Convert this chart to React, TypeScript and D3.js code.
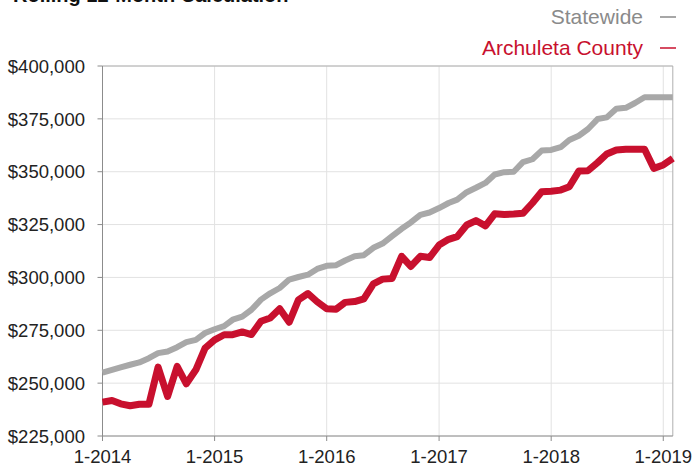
import React from "react";
import * as d3 from "d3";

const startYear = 2014;
const startMonth = 0; // January
const statewide = [
  255, 256.3, 257.5, 258.7, 259.8, 261.8, 264.2, 265, 267, 269.4, 270.5, 273.7,
  275.5, 277, 280, 281.5, 284.7, 289.5, 292.5, 295, 299, 300.2, 301.3, 304,
  305.5, 305.8, 308, 310, 310.5, 314, 316, 319.5, 323, 326, 329.6, 330.7,
  332.8, 335.2, 336.8, 340.3, 342.4, 344.7, 348.7, 349.8, 350, 354.5, 355.9, 360,
  360.3, 361.6, 365, 367, 370.2, 374.9, 375.7, 379.8, 380.2, 382.5, 385.2, 385.2,
  385.2, 385.2,
].map((v) => v * 1000);
const archuleta = [
  241, 241.8, 240.2, 239.3, 240, 240, 257.6, 243.7, 257.9, 249.7, 256.3, 266.6,
  270.5, 272.9, 272.9, 274.2, 273, 279.3, 280.8, 285.2, 278.8, 289.4, 292.4, 288.5,
  285.2, 285, 288.2, 288.6, 289.9, 297, 299.2, 299.5, 310, 305.2, 310, 309.4,
  315.3, 318, 319.3, 324.8, 326.9, 324.4, 330.1, 329.8, 330, 330.3, 335.2, 340.5,
  340.8, 341.3, 342.9, 350.3, 350.5, 354.3, 358.4, 360.3, 360.6, 360.6, 360.6, 351.6,
  353.2, 356.3,
].map((v) => v * 1000);
const yTicks = [225000, 250000, 275000, 300000, 325000, 350000, 375000, 400000];
const xTickYears = [2014, 2015, 2016, 2017, 2018, 2019];
const seriesNames = ["Statewide", "Archuleta County"];
const titleText = "Rolling 12-Month Calculation";

const W = 694;
const H = 468;
const M = { left: 102.5, right: 694 - 672.8, top: 66, bottom: 468 - 436 };
const GRAY = "#a8a8a8";
const RED = "#c8102e";
const FONT = "'Liberation Sans', Arial, Helvetica, sans-serif";

export default function App() {
  const dateAt = (i: number) => new Date(startYear, startMonth + i, 1);
  const x = d3
    .scaleTime()
    .domain([dateAt(0), dateAt(statewide.length - 1)])
    .range([M.left, W - M.right]);
  const y = d3
    .scaleLinear()
    .domain([225000, 400000])
    .range([H - M.bottom, M.top]);
  const line = d3
    .line<number>()
    .x((_, i) => x(dateAt(i)))
    .y((d) => y(d))
    .curve(d3.curveLinear);
  const fmt = d3.format("$,.0f");
  const x0 = M.left;
  const x1 = W - M.right;
  const y0 = H - M.bottom;
  const y1 = M.top;

  return (
    <svg
      width={W}
      height={H}
      style={{ position: "absolute", left: 0, top: 0, background: "#fff" }}
      fontFamily={FONT}
    >
      <text x={13} y={2} fontSize={20} fontWeight="bold" fill="#111">
        {titleText}
      </text>
      {/* legend */}
      <text x={643} y={24} fontSize={21} fill="#8a8a8a" textAnchor="end">
        {seriesNames[0]}
      </text>
      <line x1={660} x2={676} y1={17} y2={17} stroke="#8a8a8a" strokeWidth={1.5} />
      <text x={643} y={55} fontSize={21} fill={RED} textAnchor="end">
        {seriesNames[1]}
      </text>
      <line x1={660} x2={676} y1={48} y2={48} stroke={RED} strokeWidth={1.5} />

      {/* grid */}
      {yTicks.map((t) => (
        <line key={"gy" + t} x1={x0} x2={x1} y1={y(t)} y2={y(t)} stroke="#e2e2e2" strokeWidth={1} />
      ))}
      {xTickYears.map((yr) => (
        <line
          key={"gx" + yr}
          x1={x(new Date(yr, 0, 1))}
          x2={x(new Date(yr, 0, 1))}
          y1={y1}
          y2={y0}
          stroke="#e2e2e2"
          strokeWidth={1}
        />
      ))}
      {/* frame */}
      <line x1={x0} x2={x1} y1={y1} y2={y1} stroke="#b0b0b0" strokeWidth={1} />
      <line x1={x1} x2={x1} y1={y1} y2={y0} stroke="#b0b0b0" strokeWidth={1} />
      <line x1={x0} x2={x0} y1={y1} y2={y0} stroke="#8c8c8c" strokeWidth={1} />
      <line x1={x0} x2={x1} y1={y0} y2={y0} stroke="#8c8c8c" strokeWidth={1} />

      {/* y ticks */}
      {yTicks.map((t) => (
        <g key={"ty" + t}>
          <line x1={x0 - 5} x2={x0} y1={y(t)} y2={y(t)} stroke="#8c8c8c" />
          <text x={85} y={y(t)} dy="0.36em" fontSize={18.5} fill="#222" textAnchor="end">
            {fmt(t)}
          </text>
        </g>
      ))}
      {/* x ticks */}
      {xTickYears.map((yr) => {
        const xx = x(new Date(yr, 0, 1));
        return (
          <g key={"tx" + yr}>
            <line x1={xx} x2={xx} y1={y0} y2={y0 + 5} stroke="#8c8c8c" />
            <text x={xx} y={463} fontSize={18.5} fill="#222" textAnchor="middle">
              {"1-" + yr}
            </text>
          </g>
        );
      })}

      {/* lines */}
      <path d={line(statewide) || ""} fill="none" stroke={GRAY} strokeWidth={6} strokeLinejoin="round" />
      <path d={line(archuleta) || ""} fill="none" stroke={RED} strokeWidth={7} strokeLinejoin="round" />
    </svg>
  );
}
